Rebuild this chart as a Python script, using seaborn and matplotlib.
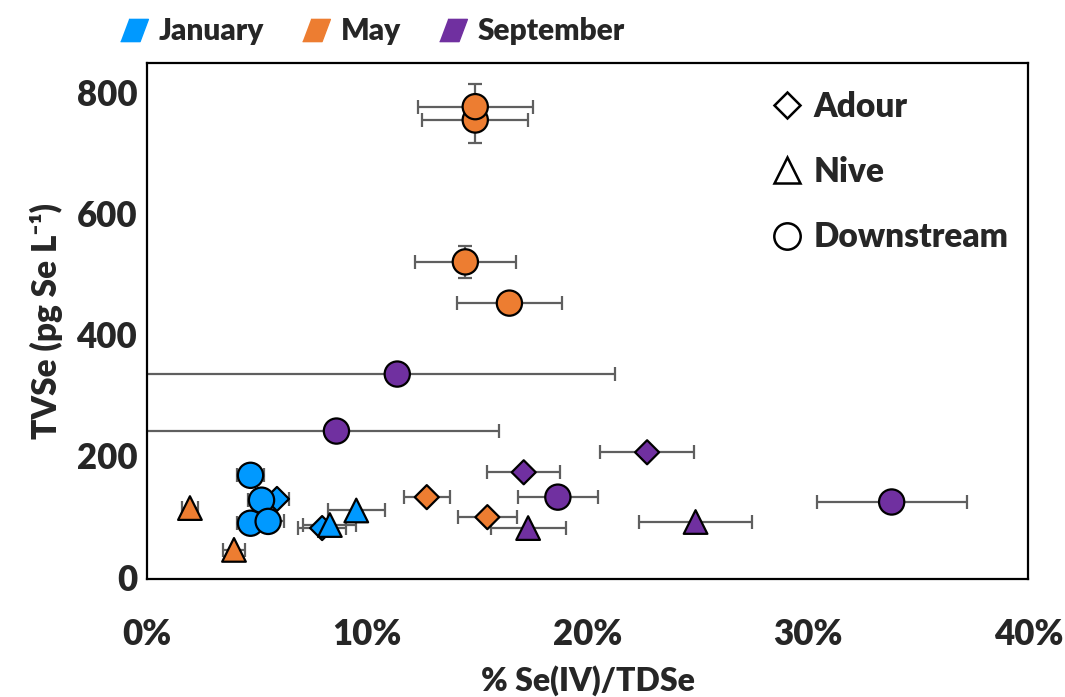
import pandas as pd
import seaborn as sns
import matplotlib.pyplot as plt
from matplotlib.lines import Line2D
from matplotlib.ticker import PercentFormatter

# values (x in % of TDSe, y in pg Se/L)
months = ['January'] * 8 + ['May'] * 8 + ['September'] * 8
sites = ['Adour', 'Downstream', 'Downstream', 'Downstream', 'Downstream', 'Adour', 'Nive', 'Nive',
         'Downstream', 'Downstream', 'Downstream', 'Downstream', 'Adour', 'Adour', 'Nive', 'Nive',
         'Downstream', 'Downstream', 'Adour', 'Adour', 'Downstream', 'Nive', 'Nive', 'Downstream']
se_iv_pct = [5.9, 4.7, 5.2, 4.7, 5.5, 7.95, 8.3, 9.5,
             14.9, 14.9, 14.45, 16.45, 12.7, 15.45, 1.95, 3.95,
             11.36, 8.6, 22.7, 17.1, 18.65, 17.3, 24.9, 33.8]
tvse = [129, 168, 127, 89, 92, 81, 86, 110,
        754, 776, 520, 452, 132, 99, 114, 45,
        335, 241, 206, 173, 132, 81, 91, 124]
xerr_low = [0.55, 0.6, 0.6, 0.6, 0.7, 1.1, 1.2, 1.3,
            2.4, 2.6, 2.3, 2.4, 1.05, 1.35, 0.35, 0.5,
            12.0, 9.0, 2.15, 1.65, 1.8, 1.7, 2.55, 3.4]
xerr_high = [0.55, 0.6, 0.6, 0.6, 0.7, 1.1, 1.2, 1.3,
             2.4, 2.6, 2.3, 2.4, 1.05, 1.35, 0.35, 0.5,
             9.9, 7.4, 2.15, 1.65, 1.8, 1.7, 2.55, 3.4]
yerr = [0, 0, 0, 0, 0, 0, 0, 0,
        38, 37, 26, 12, 0, 0, 0, 0,
        0, 0, 0, 0, 0, 0, 0, 0]

month_colors = {'January': '#0099FF', 'May': '#ED7D31', 'September': '#7030A0'}
site_markers = {'Adour': 'D', 'Nive': '^', 'Downstream': 'o'}
site_sizes = {'Adour': 150, 'Nive': 290, 'Downstream': 330}

df = pd.DataFrame({'month': months, 'site': sites,
                   'x': [v / 100 for v in se_iv_pct], 'y': tvse,
                   'xlo': [v / 100 for v in xerr_low],
                   'xhi': [v / 100 for v in xerr_high], 'yerr': yerr})

sns.set_theme(style='white')
plt.rcParams['font.family'] = ['Lato', 'DejaVu Sans']
wt = 'heavy'

fig = plt.figure(figsize=(10.65, 6.97), dpi=100)
ax = fig.add_axes([0.138, 0.1693, 0.8275, 0.7403])

err_color = '#5f5f5f'
ax.errorbar(df['x'], df['y'], xerr=[df['xlo'], df['xhi']], fmt='none',
            ecolor=err_color, elinewidth=1.6, capsize=5, capthick=1.6, zorder=1)
has_y = df[df['yerr'] > 0]
ax.errorbar(has_y['x'], has_y['y'], yerr=has_y['yerr'], fmt='none',
            ecolor=err_color, elinewidth=1.6, capsize=5, capthick=1.6, zorder=1)

sns.scatterplot(data=df, x='x', y='y', hue='month', style='site', size='site',
                palette=month_colors, markers=site_markers, sizes=site_sizes,
                edgecolor='black', linewidth=1.6, legend=False, ax=ax, zorder=3)

ax.set_xlim(0, 0.40)
ax.set_ylim(-3, 848)
ax.set_xticks([0, 0.1, 0.2, 0.3, 0.4])
ax.set_yticks([0, 200, 400, 600, 800])
ax.xaxis.set_major_formatter(PercentFormatter(1.0, decimals=0))
ax.tick_params(axis='both', length=0, labelsize=25)
ax.tick_params(axis='x', pad=28)
ax.tick_params(axis='y', pad=7)
for lab in ax.get_xticklabels() + ax.get_yticklabels():
    lab.set_fontweight(wt)
for sp in ax.spines.values():
    sp.set_color('black')
    sp.set_linewidth(1.6)

ax.set_xlabel('% Se(IV)/TDSe', fontsize=23, fontweight=wt, labelpad=10)
ax.set_ylabel('TVSe (pg Se L\u207b\u00b9)', fontsize=24, fontweight=wt, labelpad=10)

# site legend (open shapes) inside the plot
site_handles = [
    Line2D([], [], marker='D', linestyle='none', markersize=13.5,
           markerfacecolor='white', markeredgecolor='black', markeredgewidth=1.8),
    Line2D([], [], marker='^', linestyle='none', markersize=19,
           markerfacecolor='white', markeredgecolor='black', markeredgewidth=1.8),
    Line2D([], [], marker='o', linestyle='none', markersize=19,
           markerfacecolor='white', markeredgecolor='black', markeredgewidth=1.8),
]
ax.legend(site_handles, ['Adour', 'Nive', 'Downstream'], loc='upper right',
          bbox_to_anchor=(1.0, 0.985), frameon=False, prop={'size': 24, 'weight': wt},
          labelspacing=1.0, handlelength=1.0, handletextpad=0.3, borderaxespad=0.2)

# month legend (slanted swatches) above the plot
slant = [(-0.5, -0.4), (0.2, -0.4), (0.5, 0.4), (-0.2, 0.4)]
month_handles = [Line2D([], [], marker=slant, linestyle='none', markersize=20,
                        markerfacecolor=c, markeredgecolor=c)
                 for c in month_colors.values()]
fig.legend(month_handles, list(month_colors.keys()), loc='center left',
           bbox_to_anchor=(0.112, 0.955), ncol=3, frameon=False,
           prop={'size': 21.5, 'weight': wt}, handlelength=1.0,
           handletextpad=0.32, columnspacing=1.25, borderpad=0, borderaxespad=0)

plt.savefig('out.png', dpi=100)
